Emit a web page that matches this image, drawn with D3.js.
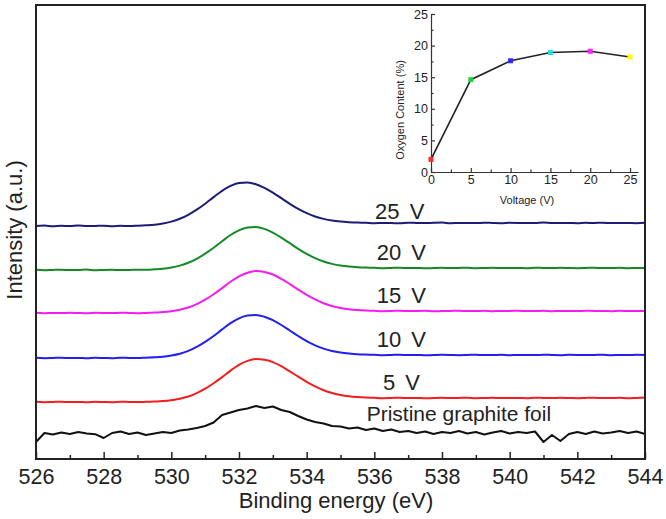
<!DOCTYPE html>
<html><head><meta charset="utf-8">
<script src="https://cdn.jsdelivr.net/npm/d3@7"></script>
<style>
body{margin:0;background:#fff}
text{font-family:"Liberation Sans",Arial,sans-serif;fill:#222}
</style>
</head><body><svg id="c" width="666" height="519"></svg>
<script>
// ---- data ----
const energy = [526,526.25,526.5,526.75,527,527.25,527.5,527.75,528,528.25,528.5,528.75,529,529.25,529.5,529.75,530,530.25,530.5,530.75,531,531.25,531.5,531.75,532,532.25,532.5,532.75,533,533.25,533.5,533.75,534,534.25,534.5,534.75,535,535.25,535.5,535.75,536,536.25,536.5,536.75,537,537.25,537.5,537.75,538,538.25,538.5,538.75,539,539.25,539.5,539.75,540,540.25,540.5,540.75,541,541.25,541.5,541.75,542,542.25,542.5,542.75,543,543.25,543.5,543.75,544];

const s25V = [233,233.4,232.8,233.2,233,233.5,232.9,233.1,233.3,232.8,233.2,233,
 233.3,233.7,234.3,235.5,237.4,240.2,244.2,249.3,255.3,261.9,268.2,273.1,276.1,276.5,274.8,271.2,266.3,260.8,255.2,250.1,245.8,242.5,240.1,238.4,237.4,236.8,236.4,
 236.2,235.8,236.1,236,235.7,236.3,236,235.9,236.2,236.4,235.8,236,236.1,235.9,236.3,236,235.8,236.2,236.1,235.9,236,236.4,235.9,236.1,236,235.8,236.2,236,236.3,235.9,236.1,236,235.8,236.2];

const s20V = [189.2,188.8,189.1,189.3,188.9,189,189.4,188.7,189.1,189.2,188.9,189,189.3,
 189.3,189.7,190.3,191.5,193.4,196.2,200.2,205.3,211.3,217.8,224,228.7,231.6,231.9,230.1,226.4,221.4,215.8,210.2,205.1,200.8,197.5,195.1,193.4,192.4,191.8,191.4,
 191.2,190.8,191,191.3,190.9,191.1,190.7,191,191.2,190.9,191.1,191.3,190.8,191,191.2,190.9,191,191.1,190.8,191.3,191,190.9,191.2,191,190.8,191.1,191.3,190.9,191,191.2,190.8,191.1,191];

const s15V = [146.2,145.8,146.1,145.9,146.3,146,145.7,146.2,146.1,145.9,146.3,146,145.8,146.1,
 146.5,146.9,147.8,149.3,151.5,154.9,159.3,164.8,170.9,177.2,182.6,186.3,187.9,187.1,184.5,180.2,174.9,169.4,164.2,159.6,155.8,153,151.1,149.8,149,148.5,
 148.2,147.8,148,148.3,147.9,148.1,148.2,147.7,148,148.1,148.3,147.9,148,148.2,147.8,148.1,148,148.3,147.9,148,148.2,147.8,148.1,148,147.9,148.3,148,148.1,147.8,148.2,148,147.9,148.1];

const s10V = [101.2,100.8,101,101.3,100.9,101.1,100.7,101.2,101,100.8,101.3,101,100.9,
 101.3,101.7,102.3,103.5,105.3,108.1,112.1,117.1,123,129.6,135.8,140.7,143.6,144.1,142.3,138.8,134,128.5,123,117.9,113.7,110.4,108,106.4,105.4,104.7,104.4,
 104.2,103.8,104,104.3,103.9,104.1,103.7,104,104.2,104.1,103.8,104,104.3,103.9,104,104.2,103.8,104.1,104,103.9,104.3,104,103.8,104.2,104.1,103.9,104,104.3,103.8,104.1,104,104.2,104];

const s5V = [57.2,56.8,57,57.3,56.9,57.1,56.7,57.2,57,56.8,57.3,57.1,56.9,57.2,
 57.5,57.9,58.8,60.3,62.5,65.9,70.3,75.8,81.9,88.4,94.1,98.1,99.9,99.3,96.9,92.8,87.7,82.3,77.2,72.6,68.8,66,64.1,62.8,62,61.5,
 61.2,60.8,61,61.3,60.9,61.1,60.7,61,61.2,60.9,61.1,61.3,60.8,61,61.2,60.9,61,61.1,60.8,61.3,61,60.9,61.2,61,60.8,61.1,61.3,60.9,61,61.2,60.8,61.1,61.4];

const sPristine = [17,26,24.5,26.5,25,27,25.5,24.8,21,26,27.5,25,26.5,24,25.5,27,26,28.5,29.5,31,33,36.5,44,46.5,49,50.5,53,51,52.5,49,47,43,39.5,37,35.5,33,32.5,30.5,31.5,29,30.5,28,29.5,27,28,26,27.5,25,27,26,28,25.5,27,24.5,26.5,28,25.5,27,26,27.5,17,24,18,25,27,25,27.5,25.5,26.5,28,26,27.5,25];

const seriesLabels = ["25 V","20 V","15 V","10 V","5 V","Pristine graphite foil"];
const seriesColors = ["#1c1c78","#138a25","#f51cf0","#1f1ff0","#f51c1c","#111111"];
const seriesValues = [s25V,s20V,s15V,s10V,s5V,sPristine];
const labelValues = [240,199,156,112,69,38];   // label baseline positions in intensity units
const labelEnergy = [536.75,536.8,536.8,536.8,536.8,538.5];

const xMajorTicks = [526,528,530,532,534,536,538,540,542,544];
const xMinorTicks = [527,529,531,533,535,537,539,541,543];

// inset data
const voltage = [0,5,10,15,20,25];
const oxygen = [2.0,14.6,17.6,18.9,19.1,18.2];
const oxColors = ["#ff2a2a","#22cc44","#2a2aff","#22dddd","#ff22ff","#ffff00"];
const insetXMajor = [0,5,10,15,20,25];
const insetXMinor = [2.5,7.5,12.5,17.5,22.5];
const insetYMajor = [0,5,10,15,20,25];
const insetYMinor = [2.5,7.5,12.5,17.5,22.5];

// ---- drawing ----
const svg = d3.select("#c");
const L=36,R=645,T=5,B=459;
const x = d3.scaleLinear().domain([526,544]).range([L,R]);
const y = d3.scaleLinear().domain([0,454]).range([B,T]);

const line = d3.line().x((d,i)=>x(energy[i])).y(d=>y(d));

seriesValues.forEach((vals,k)=>{
  svg.append("path").datum(vals)
    .attr("fill","none").attr("stroke",seriesColors[k])
    .attr("stroke-width",2).attr("stroke-linejoin","round")
    .attr("d", line.curve(k===5?d3.curveLinear:d3.curveMonotoneX)(vals));
  svg.append("text").attr("x",x(labelEnergy[k])).attr("y",y(labelValues[k]))
    .attr("text-anchor","middle").attr("font-size",k===5?21:22)
    .attr("word-spacing",k===5?0:4).text(seriesLabels[k]);
});

// bottom axis
const gx = svg.append("g").attr("transform",`translate(0,${B})`);
gx.call(d3.axisBottom(x).tickValues(xMajorTicks).tickSize(-7).tickPadding(10).tickSizeOuter(0).tickFormat(d3.format("d")));
gx.selectAll("text").attr("font-size",21.5).style("font-family",'"Liberation Sans",Arial,sans-serif').attr("fill","#222");
gx.selectAll("line").attr("stroke","#222").attr("stroke-width",1.5);
gx.select(".domain").remove();
const gxm = svg.append("g").attr("transform",`translate(0,${B})`);
gxm.call(d3.axisBottom(x).tickValues(xMinorTicks).tickSize(-4).tickFormat(""));
gxm.selectAll("line").attr("stroke","#222").attr("stroke-width",1.5);
gxm.select(".domain").remove();

// frame
svg.append("rect").attr("x",L).attr("y",T).attr("width",R-L).attr("height",B-T)
  .attr("fill","none").attr("stroke","#222").attr("stroke-width",2);

svg.append("text").attr("x",336).attr("y",508).attr("text-anchor","middle")
  .attr("font-size",22).text("Binding energy (eV)");
svg.append("text").attr("transform",`translate(22,230) rotate(-90)`)
  .attr("text-anchor","middle").attr("font-size",22).attr("fill","#333").text("Intensity (a.u.)");

// ---- inset ----
const ix = d3.scaleLinear().domain([0,26]).range([431,638]);
const iy = d3.scaleLinear().domain([0,25]).range([172,14]);
const gi = svg.append("g");
const iax = gi.append("g").attr("transform","translate(0,172)");
iax.call(d3.axisBottom(ix).tickValues(insetXMajor).tickSize(-4).tickPadding(3).tickSizeOuter(0));
const iaxm = gi.append("g").attr("transform","translate(0,172)");
iaxm.call(d3.axisBottom(ix).tickValues(insetXMinor).tickSize(-2.5).tickFormat("").tickSizeOuter(0));
iaxm.select(".domain").remove();
const iay = gi.append("g").attr("transform","translate(431,0)");
iay.call(d3.axisLeft(iy).tickValues(insetYMajor).tickSize(-4).tickPadding(3).tickSizeOuter(0));
const iaym = gi.append("g").attr("transform","translate(431,0)");
iaym.call(d3.axisLeft(iy).tickValues(insetYMinor).tickSize(-2.5).tickFormat("").tickSizeOuter(0));
iaym.select(".domain").remove();
gi.selectAll("text").attr("font-size",12.5).style("font-family",'"Liberation Sans",Arial,sans-serif').attr("fill","#333");
gi.selectAll("line,path").attr("stroke","#333").attr("stroke-width",1.2);

gi.append("path").datum(oxygen).attr("fill","none").attr("stroke","#222").attr("stroke-width",1.6)
  .attr("d", d3.line().x((d,i)=>ix(voltage[i])).y(d=>iy(d)));
gi.selectAll("rect.m").data(oxygen).enter().append("rect").attr("class","m")
  .attr("x",(d,i)=>ix(voltage[i])-2.5).attr("y",d=>iy(d)-2.5).attr("width",5).attr("height",5)
  .attr("fill",(d,i)=>oxColors[i]);

gi.append("text").attr("x",527).attr("y",204).attr("text-anchor","middle")
  .attr("font-size",11).attr("fill","#333").text("Voltage (V)");
gi.append("text").attr("transform",`translate(404,110) rotate(-90)`)
  .attr("text-anchor","middle").attr("font-size",11).attr("fill","#333").text("Oxygen Content (%)");
</script>
</body></html>
